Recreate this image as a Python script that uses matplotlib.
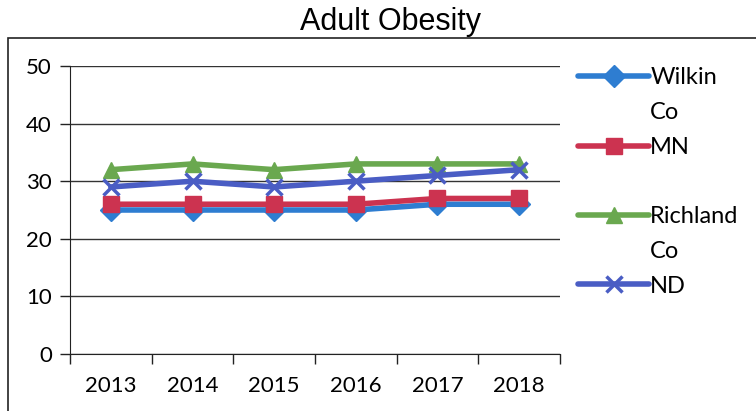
import matplotlib
matplotlib.use("Agg")
import matplotlib.pyplot as plt
from matplotlib.patches import Rectangle
from matplotlib.lines import Line2D

years = ["2013", "2014", "2015", "2016", "2017", "2018"]
wilkin = [25, 25, 25, 25, 26, 26]
mn = [26, 26, 26, 26, 27, 27]
richland = [32, 33, 32, 33, 33, 33]
nd = [29, 30, 29, 30, 31, 32]
series_labels = ["Wilkin", "MN", "Richland", "ND"]
yticks = [0, 10, 20, 30, 40, 50]

colors = ["#2E7DD1", "#CC3350", "#6AA84F", "#4A5DC4"]
markers = ["D", "s", "^", "x"]

plt.rcParams['font.family'] = ['Lato', 'DejaVu Sans']

fig = plt.figure(figsize=(7.56, 4.11), dpi=100)
ax = fig.add_axes([70/756, 1-354/411, 490/756, 288/411])

x = list(range(len(years)))
lines = []
for vals, lab, c, m in zip([wilkin, mn, richland, nd], series_labels, colors, markers):
    ln, = ax.plot(x, vals, color=c, lw=4, marker=m, markersize=11 if m != "x" else 12,
                  markeredgewidth=2.5 if m == "x" else 1, markerfacecolor=c, markeredgecolor=c,
                  label=lab, solid_capstyle="round")
    lines.append(ln)

ax.set_ylim(0, 50)
ax.set_xlim(-0.5, len(years) - 0.5)
ax.set_yticks(yticks)
ax.set_yticklabels([str(v) for v in yticks], fontsize=16)
ax.yaxis.grid(True, color="#333333", lw=1)
ax.set_axisbelow(True)
ax.set_xticks([i - 0.5 for i in range(len(years) + 1)], minor=False)
ax.set_xticklabels([])
ax.set_xticks(x, minor=True)
ax.set_xticklabels(years, minor=True, fontsize=16)
ax.tick_params(axis="x", which="major", direction="out", length=7, width=1, color="#222222")
ax.tick_params(axis="x", which="minor", length=0, pad=16)
ax.tick_params(axis="y", direction="out", length=7, width=1, color="#222222", pad=6)
for s in ["top", "right"]:
    ax.spines[s].set_visible(False)
ax.spines["left"].set_color("#222222")
ax.spines["bottom"].set_color("#222222")

blank = Line2D([], [], color="none")
handles = [lines[0], blank, lines[1], blank, lines[2], blank, lines[3]]
labels = ["Wilkin", "Co", "MN", " ", "Richland", "Co", "ND"]
leg = ax.legend(handles, labels, loc="upper left", bbox_to_anchor=(1.037, 0.995), frameon=False,
                fontsize=17, handlelength=3.0, handletextpad=0.05, labelspacing=0.58,
                borderpad=0, borderaxespad=0)

fig.text(390/756, 1-22/411, "Adult Obesity", ha="center", va="center", fontsize=22,
         family=["Liberation Sans", "DejaVu Sans"])

fig.patches.append(Rectangle((8/756, -0.05), 1.0, (411-38)/411 + 0.05, transform=fig.transFigure,
                             fill=False, edgecolor="#222222", lw=1.2))

fig.savefig("out.png", dpi=100)
